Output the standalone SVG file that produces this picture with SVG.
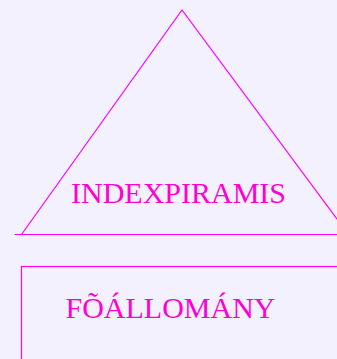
<svg xmlns="http://www.w3.org/2000/svg" width="337" height="359" viewBox="0 0 337 359">
<style>
.ln{fill:none;stroke:#ff00ff;stroke-width:1.2}
.tx{font-family:"Liberation Serif",serif;font-size:30px;fill:#ff00d0;text-anchor:middle}
</style>
<rect width="337" height="359" fill="#f2f1fd"/>
<g id="pyramid">
<polyline class="ln" points="21.5,234.5 182,10 348.5,234.5"/>
<line class="ln" x1="14.5" y1="234.5" x2="337" y2="234.5"/>
<text class="tx" x="178.5" y="203">INDEXPIRAMIS</text>
</g>
<g id="foallomany">
<rect class="ln" x="21.5" y="266.5" width="340" height="120"/>
<text class="tx" x="170.5" y="318">FÕÁLLOMÁNY</text>
</g>
<g id="connectors"></g>
</svg>
